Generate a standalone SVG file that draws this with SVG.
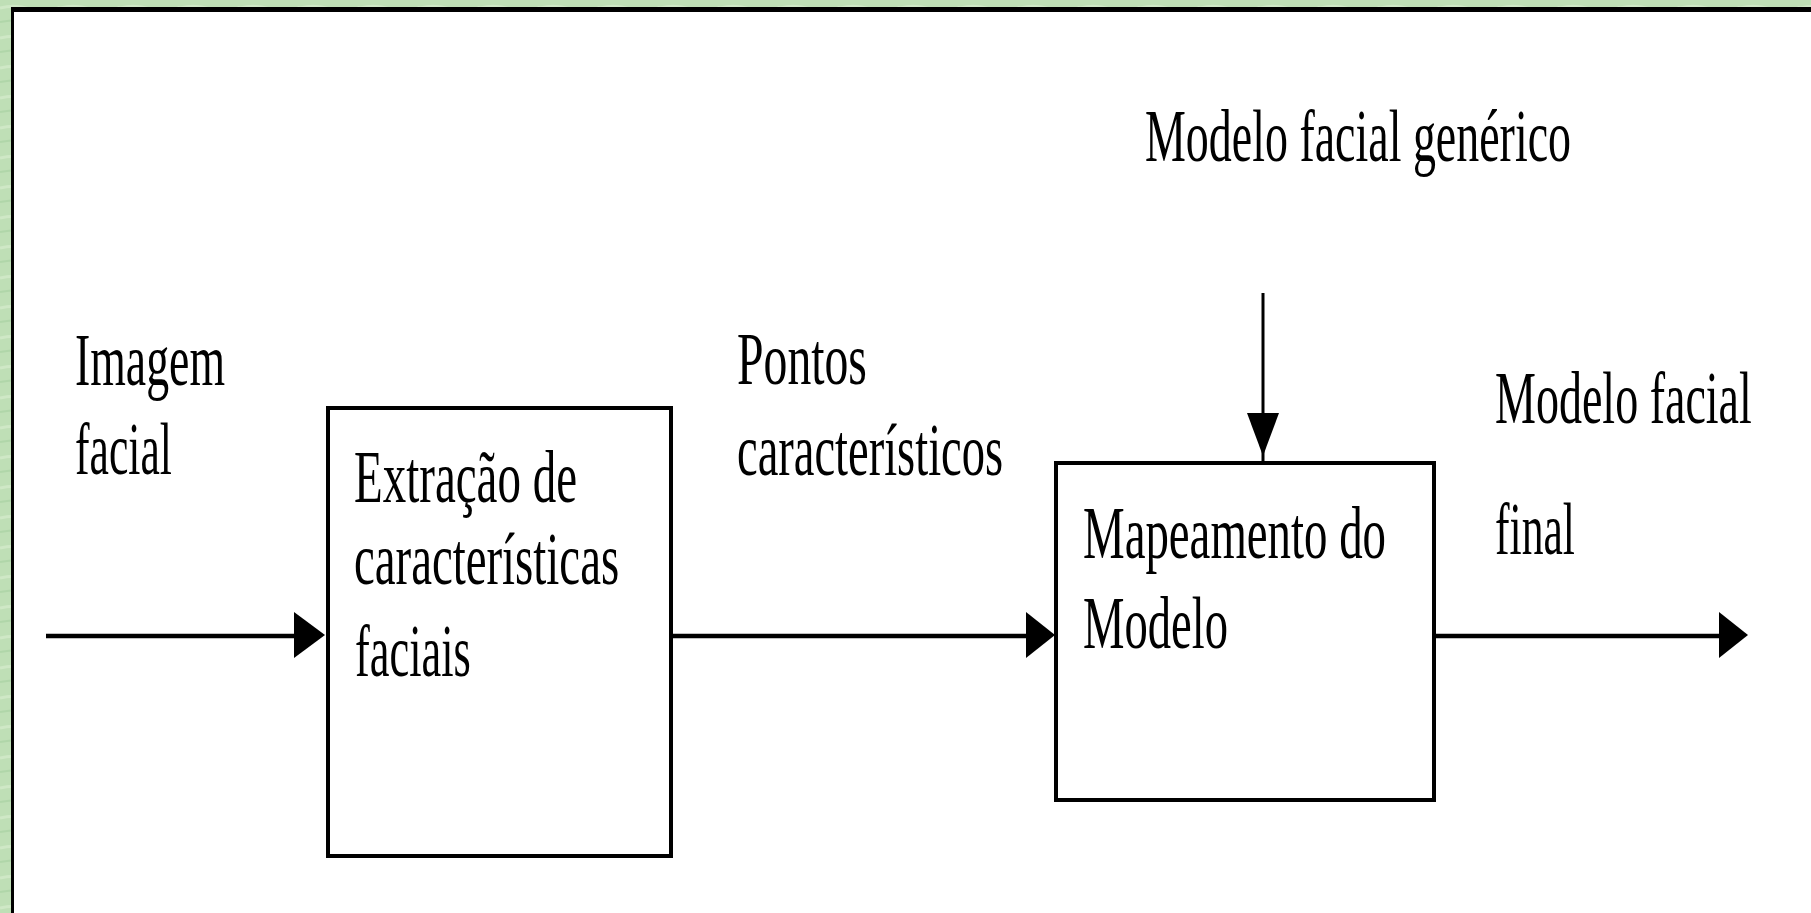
<svg xmlns="http://www.w3.org/2000/svg" width="1811" height="913" viewBox="0 0 1811 913">
<style>
  .lbl { font-family: "Liberation Serif", "Times New Roman", serif; font-size: 74px; fill: #000; }
  .box { fill: #fff; stroke: #000; stroke-width: 4; }
  .ln { stroke: #000; stroke-width: 4.5; fill: none; }
  .vln { stroke: #000; stroke-width: 3; fill: none; }
  .head { fill: #000; stroke: none; }
</style>
<defs>
  <pattern id="grain" width="60" height="30" patternUnits="userSpaceOnUse">
    <rect width="60" height="30" fill="#bfdfb6"/>
    <path d="M0 8 Q15 4 30 9 T60 7" stroke="#cfe8c6" stroke-width="3" fill="none"/>
    <path d="M0 22 Q20 18 40 23 T60 21" stroke="#b0d6a9" stroke-width="2" fill="none"/>
  </pattern>
</defs>
<rect x="0" y="0" width="1811" height="913" fill="url(#grain)"/>
<rect x="11" y="7" width="1800" height="906" fill="#000"/>
<rect x="14" y="12" width="1797" height="901" fill="#fff"/>

<g id="connectors">
  <line class="ln" x1="46" y1="636" x2="297" y2="636"/>
  <polygon class="head" points="294,612 325,635 294,658"/>
  <line class="ln" x1="672" y1="636" x2="1029" y2="636"/>
  <polygon class="head" points="1026,612 1055,635 1026,658"/>
  <line class="ln" x1="1436" y1="636" x2="1722" y2="636"/>
  <polygon class="head" points="1719,612 1748,635 1719,658"/>
  <line class="vln" x1="1263" y1="293" x2="1263" y2="462"/>
  <polygon class="head" points="1247,413 1279,413 1263,456"/>
</g>

<g id="node-extracao">
  <rect class="box" x="328" y="408" width="343" height="448"/>
  <text class="lbl" transform="translate(354,502) scale(0.635,1)">Extração de</text>
  <text class="lbl" transform="translate(354,584) scale(0.633,1)">características</text>
  <text class="lbl" transform="translate(355,676) scale(0.60,1)">faciais</text>
</g>

<g id="node-mapeamento">
  <rect class="box" x="1056" y="463" width="378" height="337"/>
  <text class="lbl" transform="translate(1083,558) scale(0.633,1)">Mapeamento do</text>
  <text class="lbl" transform="translate(1083,648) scale(0.63,1)">Modelo</text>
</g>

<g id="label-imagem">
  <text class="lbl" transform="translate(75,385) scale(0.619,1)">Imagem</text>
  <text class="lbl" transform="translate(75,474) scale(0.59,1)">facial</text>
</g>

<g id="label-pontos">
  <text class="lbl" transform="translate(737,384) scale(0.645,1)">Pontos</text>
  <text class="lbl" transform="translate(737,475) scale(0.629,1)">característicos</text>
</g>

<g id="label-generico">
  <text class="lbl" transform="translate(1145,161) scale(0.621,1)">Modelo facial genérico</text>
</g>

<g id="label-final">
  <text class="lbl" transform="translate(1495,423) scale(0.622,1)">Modelo facial</text>
  <text class="lbl" transform="translate(1495,554) scale(0.59,1)">final</text>
</g>
</svg>
